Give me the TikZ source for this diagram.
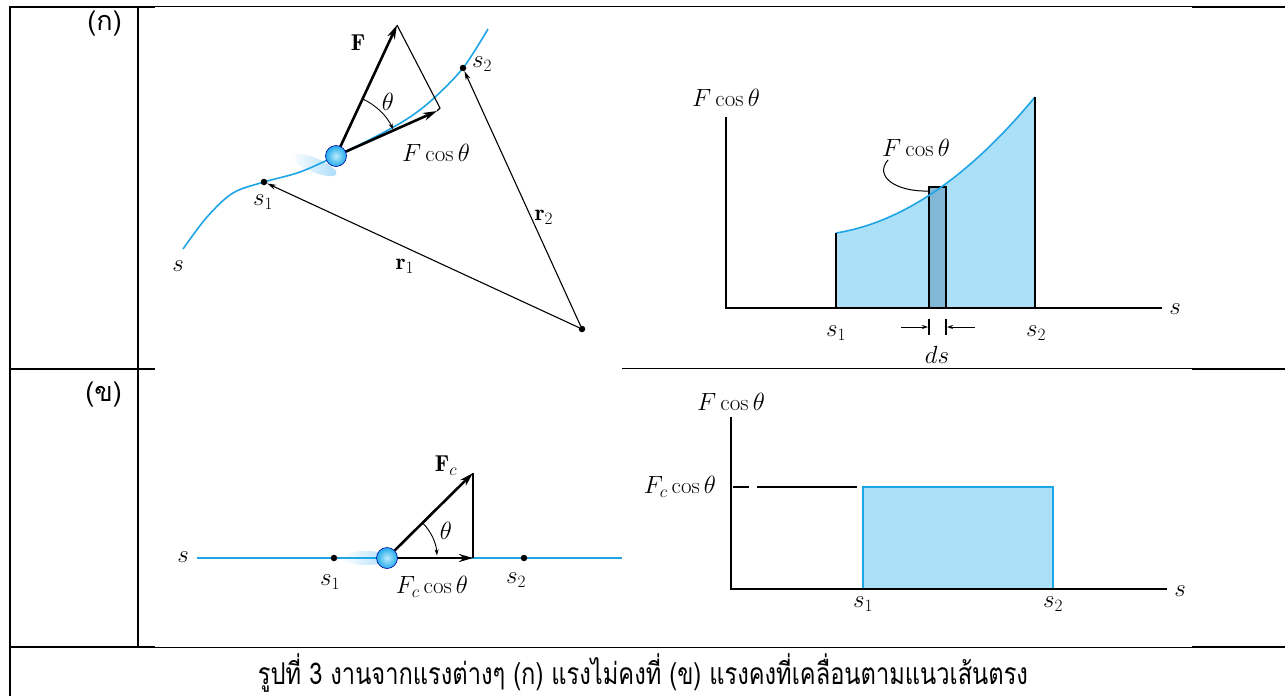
\documentclass[tikz,border=0pt]{standalone}
\usepackage{fontspec}
\usepackage{graphicx}
\newfontfamily\thaifont[Script=Thai]{Loma}
\usetikzlibrary{arrows.meta}
\definecolor{curveblue}{RGB}{30,165,230}
\definecolor{fillblue}{RGB}{172,224,248}
\definecolor{stripblue}{RGB}{128,184,214}
\definecolor{ballblue}{RGB}{30,170,235}
\definecolor{ballhi}{RGB}{190,235,252}
\definecolor{glowblue}{RGB}{170,220,248}
\begin{document}
\begin{tikzpicture}[x=1pt,y=-1pt,
  tline/.style={line width=2pt},
  axisline/.style={line width=2pt, line cap=rect},
  bluecurve/.style={curveblue, line width=1.6pt},
  bigarrow/.style={-{Stealth[length=14pt,width=8pt]}, line width=2.6pt},
  thinarrow/.style={-{Stealth[length=9pt,width=5pt]}, line width=1.1pt},
  smallarrow/.style={-{Stealth[length=6pt,width=4pt]}, line width=1pt},
  anglearc/.style={-{Stealth[length=6pt,width=4pt]}, line width=0.9pt},
  pdot/.style={circle, fill=black, inner sep=0pt, minimum size=6.5pt},
  ballnode/.style={circle, inner color=ballhi, outer color=ballblue, draw=blue!60!black, line width=0.6pt, minimum size=21pt, inner sep=0pt},
  lab/.style={font=\fontsize{23}{25}\selectfont, inner sep=1pt},
  thailab/.style={font=\thaifont\fontsize{27}{30}\selectfont, inner sep=0pt}]
\useasboundingbox (0,0) rectangle (1285,696);
% ---------- table ----------
\draw[tline] (10,7) -- (1285,7);
\draw[tline] (10,369) -- (1285,369);
\draw[tline] (10,647) -- (1285,647);
\draw[tline] (10,6) -- (10,696);
\draw[tline] (138,6) -- (138,647);
% image areas (white) partly covering the rules
\fill[white] (155,7) rectangle (1192,367.5);
\fill[white] (155,362) rectangle (622,647);
\fill[white] (622,369) rectangle (1192,647);
\node[thailab, anchor=east] (la) at (122,24) {(ก)};
\node[thailab, anchor=east] (lb) at (122,395) {(ข)};
% ---------- top left: curved path ----------
\shade[left color=white, right color=glowblue, rotate around={-22:(314,165)}] (314,165) ellipse (24 and 7);
\draw[bluecurve] plot[smooth, tension=0.55] coordinates {(183,249) (207,217) (233,193) (264,182) (300,172) (336,156) (373,138) (407,119) (433,99) (463,68) (488,29)};
\coordinate (b1) at (336,156);
\coordinate (Ftip) at (397,25);
\coordinate (corner1) at (440,108);
\coordinate (foot1) at (437,111);
\draw[line width=1.1pt] (Ftip) -- (corner1) -- (foot1);
\draw[bigarrow] (b1) -- (Ftip);
\draw[bigarrow] (b1) -- (foot1);
\draw[anglearc] ([shift={(-65:63)}]b1) arc[start angle=-65, end angle=-25, radius=63];
\node[ballnode] (ball1) at (b1) {};
\node[pdot] (s1a) at (264,182) {};
\node[pdot] (s2a) at (463,68) {};
\node[pdot] (O) at (582,329) {};
\draw[thinarrow] (O) -- (s1a);
\draw[thinarrow] (O) -- (s2a);
\node[lab] (Flab) at (358,43) {$\mathbf{F}$};
\node[lab] (th1) at (388,102) {$\theta$};
\node[lab] (Fc1lab) at (436,153) {$F\cos\theta$};
\node[lab] (s1alab) at (263,202) {$s_1$};
\node[lab] (s2alab) at (482,64) {$s_2$};
\node[lab] (sa) at (178,266) {$s$};
\node[lab] (r1lab) at (405,266) {$\mathbf{r}_1$};
\node[lab] (r2lab) at (544,217) {$\mathbf{r}_2$};
% ---------- top right: graph ----------
\coordinate (o1) at (726,308);
\coordinate (ytop1) at (726,118);
\coordinate (xend1) at (1161,308);
\fill[fillblue] (836,308) -- (836,233) .. controls (902.3,222.4) and (968.7,177.1) .. (1035,97) -- (1035,308) -- cycle;
\filldraw[fill=stripblue, draw=black, line width=1.6pt] (929,308) rectangle (946,187);
\draw[bluecurve] (836,233) .. controls (902.3,222.4) and (968.7,177.1) .. (1035,97);
\draw[line width=2pt] (836,308) -- (836,233);
\draw[line width=2pt] (1035,308) -- (1035,97);
\draw[axisline] (ytop1) -- (o1) -- (xend1);
\node[lab] (yl1) at (726,98) {$F\cos\theta$};
\node[lab] (sl1) at (1175,309) {$s$};
\node[lab] (fl1) at (916,148) {$F\cos\theta$};
\coordinate (lead0) at (888,160);
\coordinate (lead1) at (929,191);
\draw[line width=1pt] (lead0) .. controls (874,176) and (895,192) .. (lead1);
\node[lab] (s1blab) at (836,333) {$s_1$};
\node[lab] (s2blab) at (1036,333) {$s_2$};
\coordinate (dsL0) at (901,327);
\coordinate (dsL1) at (928,327);
\coordinate (dsR0) at (975,327);
\coordinate (dsR1) at (947,327);
\draw[smallarrow] (dsL0) -- (dsL1);
\draw[smallarrow] (dsR0) -- (dsR1);
\draw[line width=1.2pt] (929,319) -- (929,335);
\draw[line width=1.2pt] (946,319) -- (946,335);
\node[lab] (dslab) at (937,355) {$ds$};
% ---------- bottom left: straight path ----------
\shade[left color=white, right color=glowblue] (366,558) ellipse (24 and 7);
\draw[bluecurve] (197,558) -- (622,558);
\coordinate (b2) at (387,558);
\coordinate (Fctip) at (473,473);
\coordinate (foot2) at (473,558);
\draw[line width=1.1pt] (Fctip) -- (foot2);
\draw[bigarrow] (b2) -- (Fctip);
\draw[bigarrow] (b2) -- (foot2);
\draw[anglearc] ([shift={(-45:50)}]b2) arc[start angle=-45, end angle=-3, radius=50];
\node[ballnode] (ball2) at (b2) {};
\node[pdot] (s1c) at (334,558) {};
\node[pdot] (s2c) at (524,558) {};
\node[lab] (sc) at (183,557) {$s$};
\node[lab] (s1clab) at (330,582) {$s_1$};
\node[lab] (s2clab) at (516,580) {$s_2$};
\node[lab] (Fclab) at (446,466) {$\mathbf{F}_c$};
\node[lab] (th2) at (446,531) {$\theta$};
\node[lab] (Fcclab) at (432,587) {$F_c\cos\theta$};
% ---------- bottom right: graph ----------
\coordinate (o2) at (731,589);
\coordinate (ytop2) at (731,418);
\coordinate (xend2) at (1166,589);
\filldraw[fill=fillblue, draw=curveblue, line width=1.8pt] (863,589) rectangle (1053,487);
\draw[line width=1.6pt] (733,487) -- (749,487);
\draw[line width=1.6pt] (757,487) -- (857,487);
\draw[axisline] (ytop2) -- (o2) -- (xend2);
\node[lab] (yl2) at (731,402) {$F\cos\theta$};
\node[lab] (fcl2) at (680,487) {$F_c\cos\theta$};
\node[lab] (sl2) at (1180,591) {$s$};
\node[lab] (s1dlab) at (863,604) {$s_1$};
\node[lab] (s2dlab) at (1053,604) {$s_2$};
% ---------- caption ----------
\node[inner sep=0pt, anchor=base] (cap) at (643,684) {\resizebox{770pt}{\height}{\thaifont\fontsize{30}{32}\selectfont รูปที่ 3 งานจากแรงต่างๆ (ก) แรงไม่คงที่ (ข) แรงคงที่เคลื่อนตามแนวเส้นตรง}};
\end{tikzpicture}
\end{document}
